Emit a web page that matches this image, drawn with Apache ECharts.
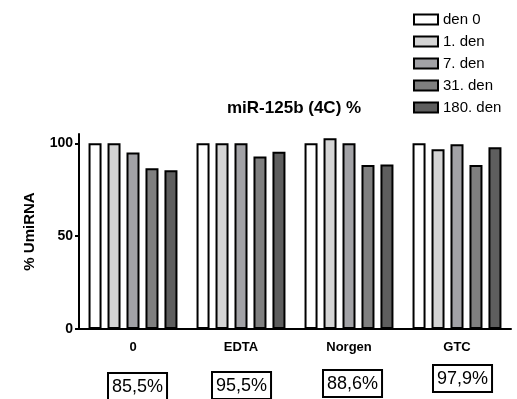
<!DOCTYPE html>
<html><head><meta charset="utf-8">
<script src="https://cdn.jsdelivr.net/npm/echarts@6/dist/echarts.min.js"></script>
<style>html,body{margin:0;padding:0;background:#fff}#c{width:517px;height:399px}</style>
</head><body><div id="c"></div>
<script>
const categories = ['0', 'EDTA', 'Norgen', 'GTC'];
const seriesNames = ['den 0', '1. den', '7. den', '31. den', '180. den'];
const den0 = [100, 100, 100, 100];
const den1 = [100, 100, 102.7, 96.8];
const den7 = [95, 100, 100, 99.5];
const den31 = [86.5, 92.9, 88.3, 88.3];
const den180 = [85.5, 95.5, 88.6, 97.9];
const boxLabels = ['85,5%', '95,5%', '88,6%', '97,9%'];
const yTicks = [0, 50, 100];

const colors = ['#ffffff', '#d4d4d4', '#a2a2a6', '#7f7f7f', '#5e5e5e'];
const allData = [den0, den1, den7, den31, den180];
const font = 'Liberation Sans, Arial, sans-serif';

const chart = echarts.init(document.getElementById('c'), null, {renderer: 'canvas'});
const series = allData.map((d, i) => ({
  name: seriesNames[i], type: 'bar', data: d,
  barWidth: 13, barGap: '46%',
  itemStyle: {color: colors[i], borderColor: '#000', borderWidth: 2}
}));
chart.setOption({
  animation: false,
  title: {text: 'miR-125b (4C) %', left: 222, top: 95,
    textStyle: {fontFamily: font, fontSize: 17, fontWeight: 'bold', color: '#000'}},
  legend: {orient: 'vertical', left: 408, top: 7, itemWidth: 24, itemHeight: 10, itemGap: 7,
    icon: 'rect',
    textStyle: {fontFamily: font, fontSize: 15, color: '#000'},
    data: seriesNames},
  grid: {left: 79, right: 6, top: 134, bottom: 70, containLabel: false},
  xAxis: {type: 'category', data: categories,
    axisLine: {lineStyle: {color: '#000', width: 2}},
    axisTick: {alignWithLabel: true, length: 4, lineStyle: {color: '#000', width: 2}},
    axisLabel: {fontFamily: font, fontSize: 13, fontWeight: 'bold', color: '#000', margin: 12}},
  yAxis: {type: 'value', min: 0, max: 105, interval: 50,
    name: '% UmiRNA', nameLocation: 'middle', nameGap: 42, nameRotate: 90,
    nameTextStyle: {fontFamily: font, fontSize: 15, fontWeight: 'bold', color: '#000'},
    axisLine: {show: true, lineStyle: {color: '#000', width: 2}},
    axisTick: {show: true, length: 4, customValues: yTicks, lineStyle: {color: '#000', width: 2}},
    axisLabel: {customValues: yTicks, fontFamily: font, fontSize: 14, fontWeight: 'bold', color: '#000', margin: 6},
    splitLine: {show: false}},
  series: series
});

const boxOffsets = [[-26, 43], [-30, 42], [-27, 40], [-25, 35]];
const graphics = boxLabels.map((t, i) => {
  const p = chart.convertToPixel({xAxisIndex: 0, yAxisIndex: 0}, [categories[i], 0]);
  return {type: 'text', left: p[0] + boxOffsets[i][0], top: p[1] + boxOffsets[i][1],
    style: {text: t, fontFamily: font, fontSize: 18, fill: '#000',
      backgroundColor: '#fff', borderColor: '#000', borderWidth: 2, padding: [4, 3, 3, 3]}};
});
chart.setOption({graphic: graphics});
</script></body></html>
